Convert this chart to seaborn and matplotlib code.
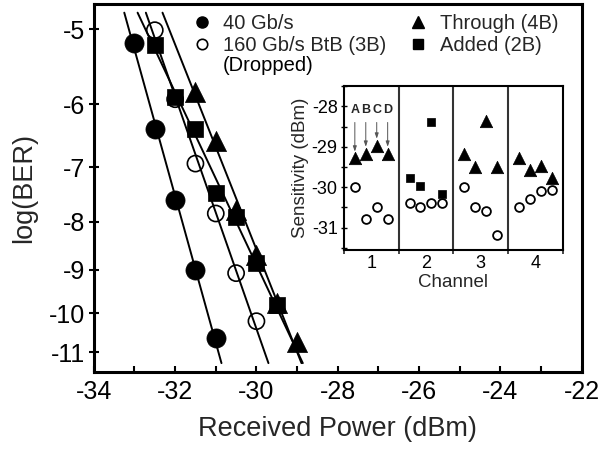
import numpy as np
import pandas as pd
import matplotlib
matplotlib.use("Agg")
import matplotlib.pyplot as plt
import seaborn as sns
from matplotlib.lines import Line2D
from matplotlib.ticker import FixedLocator, MultipleLocator, NullFormatter

# ---------------- data: main BER curves ----------------
x_40g = [-33.0, -32.5, -32.0, -31.5, -31.0]
ber_40g = [-5.17, -6.37, -7.59, -9.00, -10.63]

x_160g = [-32.5, -32.0, -31.5, -31.0, -30.5, -30.0]
ber_160g = [-5.01, -5.93, -6.94, -7.84, -9.07, -10.20]

x_added = [-32.5, -32.0, -31.5, -31.0, -30.5, -30.0, -29.5]
ber_added = [-5.20, -5.90, -6.37, -7.46, -7.91, -8.85, -9.81]

x_through = [-31.5, -31.0, -30.5, -30.0, -29.5, -29.0]
ber_through = [-5.83, -6.56, -7.78, -8.68, -9.76, -10.73]

x_ticks = [-34, -32, -30, -28, -26, -24, -22]
y_ticks = [-5, -6, -7, -8, -9, -10, -11]

# ---------------- data: inset sensitivities ----------------
channels = ["1", "2", "3", "4"]
sub_labels = ["A", "B", "C", "D"]
nan = np.nan
sens_through = [[-29.29, -29.17, -28.97, -29.17],
                [nan, nan, nan, nan],
                [-29.19, -29.50, -28.37, -29.50],
                [-29.27, -29.58, -29.48, -29.77]]
sens_added = [[nan, nan, nan, nan],
              [-29.78, -29.97, -28.39, -30.18],
              [nan, nan, nan, nan],
              [nan, nan, nan, nan]]
sens_dropped = [[-30.00, -30.79, -30.49, -30.79],
                [-30.38, -30.49, -30.38, -30.38],
                [-29.99, -30.49, -30.59, -31.19],
                [-30.49, -30.28, -30.10, -30.08]]

# ---------------- style ----------------
sns.set_theme(style="white")
plt.rcParams["font.family"] = ["Liberation Sans", "DejaVu Sans"]
plt.rcParams["axes.edgecolor"] = "black"


def fwd(y):
    y = np.asarray(y, dtype=float)
    return -np.log10(np.clip(-y, 1e-6, None))


def inv(u):
    u = np.asarray(u, dtype=float)
    return -10.0 ** (-u)


fig = plt.figure(figsize=(6.13, 4.51), dpi=100)
ax = fig.add_axes([0.153, 0.175, 0.796, 0.816])
ax.set_yscale("function", functions=(fwd, inv))

series = [
    (x_40g, ber_40g, dict(marker="o", s=190, color="black", edgecolor="black", linewidth=0.5)),
    (x_160g, ber_160g, dict(marker="o", s=135, color="black", facecolor="none", edgecolor="black", linewidth=1.2)),
    (x_added, ber_added, dict(marker="s", s=120, color="black", edgecolor="black", linewidth=0.5)),
    (x_through, ber_through, dict(marker="^", s=210, color="black", edgecolor="black", linewidth=0.5)),
]

u_span = fwd([-4.8, -11.3])
for xs, ys, kw in series:
    a, b = np.polyfit(fwd(ys), xs, 1)
    xfit = a * u_span + b
    yfit = inv(u_span)
    sns.lineplot(x=xfit, y=yfit, color="black", lw=1.4, sort=False,
                 estimator=None, ax=ax, zorder=2)
for xs, ys, kw in series:
    sns.scatterplot(x=xs, y=ys, ax=ax, zorder=3, legend=False, **kw)

ax.set_xlim(-34, -22)
ax.set_ylim(-11.55, -4.70)
ax.xaxis.set_major_locator(FixedLocator(x_ticks))
ax.set_xticklabels([str(t) for t in x_ticks])
ax.xaxis.set_minor_locator(MultipleLocator(1))
ax.yaxis.set_major_locator(FixedLocator(y_ticks))
ax.set_yticklabels([str(t) for t in y_ticks])
ax.yaxis.set_minor_locator(FixedLocator([]))
ax.tick_params(axis="x", which="both", direction="in", length=4, width=1.5,
               bottom=True, labelsize=18, pad=6, colors="black")
ax.tick_params(axis="y", which="major", direction="inout", length=7, width=1.5,
               left=True, labelsize=18, pad=3, colors="black")
for sp in ax.spines.values():
    sp.set_linewidth(2.2)
    sp.set_color("black")
ax.set_xlabel("Received Power (dBm)", fontsize=19.5, labelpad=8)
ax.set_ylabel("log(BER)", fontsize=19.5, labelpad=8)

# ---------------- legend ----------------
h_40 = Line2D([], [], ls="none", marker="o", ms=8, mfc="black", mec="black")
h_160 = Line2D([], [], ls="none", marker="o", ms=7.5, mfc="none", mec="black", mew=1.2)
h_thr = Line2D([], [], ls="none", marker="^", ms=9, mfc="black", mec="black")
h_add = Line2D([], [], ls="none", marker="s", ms=7, mfc="black", mec="black")
leg = ax.legend([h_40, h_160, h_thr, h_add],
                ["40 Gb/s", "160 Gb/s BtB (3B)", "Through (4B)", "Added (2B)"],
                ncol=2, loc="upper left", bbox_to_anchor=(0.205, 0.973),
                frameon=False, fontsize=14.5, handlelength=0.8,
                handletextpad=0.65, columnspacing=1.2, borderpad=0,
                borderaxespad=0, labelspacing=0.15)

fig.canvas.draw()
tb = leg.get_texts()[1].get_window_extent()
inv_ax = ax.transAxes.inverted()
tx, ty = inv_ax.transform((tb.x0, (tb.y0 + tb.y1) / 2 - 19.5))
ax.text(tx, ty, "(Dropped)", transform=ax.transAxes, fontsize=14.5,
        ha="left", va="center", color="black")

# ---------------- inset ----------------
ax2 = fig.add_axes([0.561, 0.446, 0.357, 0.363])
offsets = [0.2, 0.4, 0.6, 0.8]
pos = [ci + o for ci in range(len(channels)) for o in offsets]
df = pd.DataFrame({
    "pos": pos,
    "through": np.ravel(sens_through),
    "added": np.ravel(sens_added),
    "dropped": np.ravel(sens_dropped),
})
for xv in range(1, len(channels)):
    ax2.axvline(xv, color="#333333", lw=1.5, zorder=1)
sns.scatterplot(data=df, x="pos", y="through", marker="^", s=80, color="black",
                edgecolor="black", linewidth=0.5, ax=ax2, zorder=3, legend=False)
sns.scatterplot(data=df, x="pos", y="added", marker="s", s=32, color="black",
                edgecolor="black", linewidth=0.5, ax=ax2, zorder=3, legend=False)
sns.scatterplot(data=df, x="pos", y="dropped", marker="o", s=40, color="black",
                facecolor="white", edgecolor="black", linewidth=1.3, ax=ax2,
                zorder=3, legend=False)

# A-D labels with arrows for channel 1
for j, lab in enumerate(sub_labels):
    xv = df["pos"].iloc[j]
    yv = df["through"].iloc[j]
    ax2.annotate(lab, xy=(xv, yv + 0.17), xytext=(xv, -28.1),
                 ha="center", va="center", fontsize=9, fontweight="bold",
                 arrowprops=dict(arrowstyle="-|>,head_length=0.35,head_width=0.12",
                                 color="#555555", lw=0.7, shrinkA=2, shrinkB=0))

ax2.set_xlim(0, 4)
ax2.set_ylim(-31.55, -27.5)
ax2.xaxis.set_major_locator(FixedLocator([i + 0.5 for i in range(len(channels))]))
ax2.set_xticklabels(channels)
ax2.xaxis.set_minor_locator(FixedLocator(list(range(len(channels) + 1))))
ax2.xaxis.set_minor_formatter(NullFormatter())
ax2.yaxis.set_major_locator(FixedLocator([-28, -29, -30, -31]))
ax2.set_yticklabels(["-28", "-29", "-30", "-31"])
ax2.yaxis.set_minor_locator(MultipleLocator(0.5))
ax2.tick_params(axis="x", which="major", length=0, labelsize=13, pad=4, colors="black")
ax2.tick_params(axis="x", which="minor", direction="inout", length=6, width=1.2,
                bottom=True)
ax2.tick_params(axis="y", which="both", direction="inout", length=5, width=1.0,
                left=True, labelsize=13, pad=2, colors="black")
for sp in ax2.spines.values():
    sp.set_linewidth(1.5)
    sp.set_color("black")
ax2.set_xlabel("Channel", fontsize=13.5, labelpad=1)
ax2.set_ylabel("Sensitivity (dBm)", fontsize=13.5, labelpad=2)

fig.savefig("out.png", dpi=100)
